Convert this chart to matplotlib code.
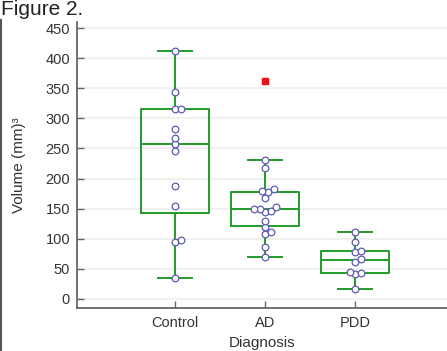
import matplotlib
matplotlib.use('Agg')
import matplotlib.pyplot as plt
from matplotlib.lines import Line2D
import numpy as np

plt.rcParams['font.family'] = ['Liberation Sans', 'DejaVu Sans']

# data
groups = ['Control', 'AD', 'PDD']
control = [412, 343, 315, 315, 283, 268, 257, 245, 187, 154, 98, 94, 35]
ad = [231, 217, 182, 180, 177, 168, 152, 149, 149, 146, 145, 129, 119, 112, 108, 86, 70]
pdd = [112, 94, 80, 78, 66, 62, 45, 43, 41, 17]
# box summaries as drawn in the figure
q1 = [142, 121, 43]
med = [257, 149, 65]
q3 = [315, 178, 79]
whislo = [35, 70, 17]
whishi = [412, 231, 112]
fliers = [[], [362], []]
yticks = [0, 50, 100, 150, 200, 250, 300, 350, 400, 450]

green = '#239b2a'
dot = '#5b5cae'
txt = '#333333'

fig = plt.figure(figsize=(4.47, 3.51), dpi=100)
ax = fig.add_axes([77/447, 1 - 308/351, 1 - 77/447 + 0.002, (308 - 22)/351])
ax.set_xlim(-1.089, 3.03)
ax.set_ylim(-15, 460)

for y in yticks:
    ax.axhline(y, color='#f1f1f1', lw=1.6, zorder=0)

stats = []
for i, g in enumerate(groups):
    stats.append(dict(label=g, q1=q1[i], med=med[i], q3=q3[i],
                      whislo=whislo[i], whishi=whishi[i], fliers=fliers[i]))
ax.bxp(stats, positions=[0, 1, 2], widths=0.76, patch_artist=False,
       boxprops=dict(color=green, lw=1.4),
       medianprops=dict(color=green, lw=1.4),
       whiskerprops=dict(color=green, lw=1.4),
       capprops=dict(color=green, lw=1.4),
       flierprops=dict(marker='s', markerfacecolor='#ee1111', markeredgecolor='#ee1111',
                       markersize=4.2, linestyle='none'),
       capwidths=0.37, manage_ticks=False)

# simple swarm so points don't sit on top of each other
fig.canvas.draw()
px_x = ax.transData.transform((1, 0))[0] - ax.transData.transform((0, 0))[0]
px_y = ax.transData.transform((0, 1))[1] - ax.transData.transform((0, 0))[1]
diam = 6.0
for i, vals in enumerate([control, ad, pdd]):
    placed = []
    for v in sorted(vals):
        yp = v * px_y
        for k in range(0, 60):
            off = (k + 1) // 2 * (1 if k % 2 else -1) * 0.5
            if all((off - ox) ** 2 + (yp - oy) ** 2 >= diam ** 2 for ox, oy in placed):
                break
        placed.append((off, yp))
        ax.plot(i + off / px_x, v, 'o', ms=4.8, mfc='white', mec=dot, mew=0.9, zorder=5)

for s in ['top', 'right']:
    ax.spines[s].set_visible(False)
for s in ['left', 'bottom']:
    ax.spines[s].set_color('#666666')
    ax.spines[s].set_linewidth(1.3)

ax.set_yticks(yticks)
ax.set_xticks([0, 1, 2])
ax.set_xticklabels(groups)
ax.tick_params(axis='both', direction='in', length=5, width=1, color='#666666',
               labelsize=10.5, labelcolor=txt)
ax.tick_params(axis='y', pad=5)
ax.tick_params(axis='x', pad=6)

ax.set_ylabel('Volume (mm)³', fontsize=11, color=txt, labelpad=14)
ax.set_xlabel('Diagnosis', fontsize=11, color=txt, labelpad=4)

fig.text(1/447, 1 - 15/351, 'Figure 2.', fontsize=15, color='#222222', va='baseline')
fig.add_artist(Line2D([0.002, 0.002], [0, 1 - 20/351], transform=fig.transFigure,
                      color='#555555', lw=1.5))

fig.savefig('out.png', dpi=100)
